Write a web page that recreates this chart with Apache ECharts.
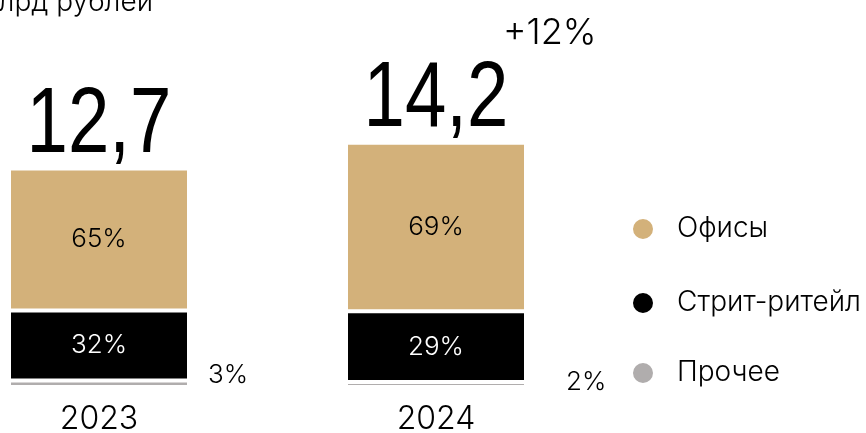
<!DOCTYPE html>
<html>
<head>
<meta charset="utf-8">
<script src="https://cdn.jsdelivr.net/npm/echarts@6/dist/echarts.min.js"></script>
<style>html,body{margin:0;padding:0;background:#fff;}#c{width:866px;height:433px;}</style>
</head>
<body>
<div id="c"></div>
<script>
// ---- data ----
const years = ['2023', '2024'];
const totals = [12.7, 14.2];            // млрд рублей
const officesShare = [65, 69];          // %
const streetShare = [32, 29];           // %
const otherShare = [3, 2];              // %
const growthText = '+12%';
const unitText = 'млрд рублей';
const seriesNames = ['Офисы', 'Стрит-ритейл', 'Прочее'];

// ---- styles ----
const FONT = 'Inter, "Noto Sans", sans-serif';
const BIG_FONT = '"Liberation Sans", Arial, sans-serif';
const GOLD = '#D3B17A', BLACK = '#000000', GREY = '#B0ADAD';
const legendTops = [215, 289, 359];

const part = (share) => share.map((s, i) => +(totals[i] * s / 100).toFixed(3));

const chart = echarts.init(document.getElementById('c'), null, {renderer: 'canvas'});
const seg = (name, color, share, labelOpt) => ({
  name: name,
  type: 'bar',
  stack: 'total',
  barWidth: 180,
  itemStyle: {color: color, borderColor: '#fff', borderWidth: 2},
  data: part(share).map((v, i) => ({value: v, label: labelOpt ? labelOpt(i) : undefined})),
  label: {
    show: true,
    formatter: (p) => share[p.dataIndex] + '%',
    fontFamily: FONT, fontSize: 26, fontWeight: 300,
    color: color === BLACK ? '#fff' : '#000'
  },
  emphasis: {disabled: true}
});

const otherSeries = seg(seriesNames[2], GREY, otherShare, (i) => ({
  position: 'right', distance: i === 0 ? 19 : 40, offset: [0, i === 0 ? -9 : -2], color: '#000'
}));

const legends = seriesNames.map((n, k) => ({
  orient: 'vertical', left: 631, top: legendTops[k],
  data: [n],
  icon: 'circle', itemWidth: 22, itemHeight: 22,
  padding: 0,
  selectedMode: false,
  textStyle: {fontFamily: FONT, fontSize: 28, fontWeight: 300, lineHeight: 22, color: '#000', padding: [0, 0, 0, 18]}
}));

const textGraphics = [
  {type: 'text', x: 153, y: 3, style: {text: unitText, font: '300 28px ' + FONT, fill: '#000', textAlign: 'right', textVerticalAlign: 'middle'}},
  {type: 'text', x: 503, y: 33, style: {text: growthText, font: '300 36px ' + FONT, fill: '#000', textAlign: 'left', textVerticalAlign: 'middle'}}
];

chart.setOption({
  animation: false,
  grid: {left: -69.5, width: 674, bottom: 46, top: 111.8, outerBoundsMode: 'none', containLabel: false},
  xAxis: {
    type: 'category', data: years,
    axisLine: {show: false}, axisTick: {show: false},
    axisLabel: {fontFamily: FONT, fontSize: 32, fontWeight: 300, color: '#000', margin: 16}
  },
  yAxis: {type: 'value', min: 0, max: 16, show: false},
  legend: legends,
  series: [
    otherSeries,
    seg(seriesNames[1], BLACK, streetShare),
    seg(seriesNames[0], GOLD, officesShare)
  ],
  graphic: textGraphics
});

// total labels above each stack, placed through the chart's own scales
const totalGraphics = totals.map((t, i) => {
  const p = chart.convertToPixel({xAxisIndex: 0, yAxisIndex: 0}, [i, t]);
  return {
    type: 'text', x: p[0], y: p[1] + 4, scaleX: 0.8,
    style: {text: String(t).replace('.', ','), font: '93px ' + BIG_FONT, fill: '#000', textAlign: 'center', textVerticalAlign: 'bottom'}
  };
});
chart.setOption({graphic: textGraphics.concat(totalGraphics)}, {replaceMerge: ['graphic']});
</script>
</body>
</html>
